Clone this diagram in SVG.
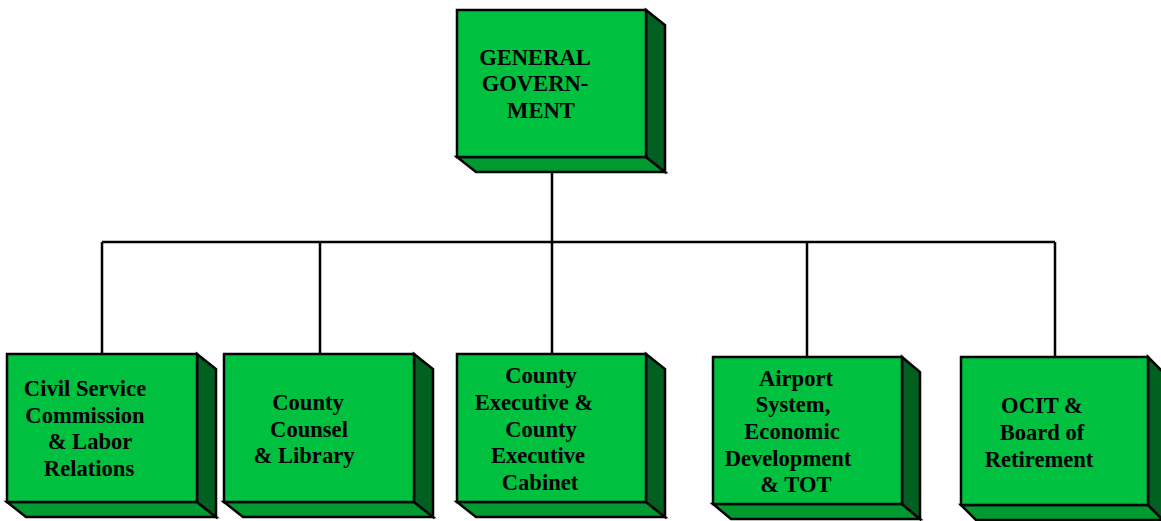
<svg xmlns="http://www.w3.org/2000/svg" width="1161" height="521" viewBox="0 0 1161 521">
<style>
.front{fill:#00C040;stroke:#000;stroke-width:2.5}
.bottom{fill:#009A30;stroke:#000;stroke-width:2.5;stroke-linejoin:miter}
.side{fill:#006020;stroke:#000;stroke-width:2.5;stroke-linejoin:miter}
.t{font-family:"Liberation Serif","Times New Roman",serif;font-weight:bold;font-size:22.6px;fill:#000;text-anchor:middle}
.c{fill:none;stroke:#000;stroke-width:2.5}
</style>
<rect width="1161" height="521" fill="#fff"/>
<g id="connectors">
<path class="c" d="M552,157 V242 M102,242 H1055 M102,242 V354 M320,242 V354 M552,242 V354 M807,242 V357 M1055,242 V357"/>
</g>
<g id="general-government">
<polygon class="bottom" points="457,157 646,157 665,172 476,172"/>
<polygon class="side" points="646,10 665,25 665,172 646,157"/>
<rect class="front" x="457" y="10" width="189" height="147"/>
<text class="t" x="535" y="65">GENERAL</text>
<text class="t" x="535" y="91">GOVERN-</text>
<text class="t" x="541" y="118">MENT</text>
</g>
<g id="civil-service">
<polygon class="bottom" points="7,502 197,502 216,517 26,517"/>
<polygon class="side" points="197,354 216,369 216,517 197,502"/>
<rect class="front" x="7" y="354" width="190" height="148"/>
<text class="t" x="85" y="396">Civil Service</text>
<text class="t" x="85" y="423">Commission</text>
<text class="t" x="90" y="449">&amp; Labor</text>
<text class="t" x="89" y="476">Relations</text>
</g>
<g id="county-counsel">
<polygon class="bottom" points="224,502 414,502 433,517 243,517"/>
<polygon class="side" points="414,354 433,369 433,517 414,502"/>
<rect class="front" x="224" y="354" width="190" height="148"/>
<text class="t" x="308" y="410">County</text>
<text class="t" x="309" y="437">Counsel</text>
<text class="t" x="304" y="463">&amp; Library</text>
</g>
<g id="county-executive">
<polygon class="bottom" points="457,502 646,502 665,517 476,517"/>
<polygon class="side" points="646,354 665,369 665,517 646,502"/>
<rect class="front" x="457" y="354" width="189" height="148"/>
<text class="t" x="541" y="383">County</text>
<text class="t" x="534" y="410">Executive &amp;</text>
<text class="t" x="541" y="437">County</text>
<text class="t" x="538" y="463">Executive</text>
<text class="t" x="540" y="490">Cabinet</text>
</g>
<g id="airport-system">
<polygon class="bottom" points="713,504 902,504 920,519 731,519"/>
<polygon class="side" points="902,357 920,372 920,519 902,504"/>
<rect class="front" x="713" y="357" width="189" height="147"/>
<text class="t" x="796" y="386">Airport</text>
<text class="t" x="793" y="412">System,</text>
<text class="t" x="792" y="439">Economic</text>
<text class="t" x="788" y="466">Development</text>
<text class="t" x="796" y="492">&amp; TOT</text>
</g>
<g id="ocit">
<polygon class="bottom" points="961,505 1148,505 1163,520 976,520"/>
<polygon class="side" points="1148,357 1163,372 1163,520 1148,505"/>
<rect class="front" x="961" y="357" width="187" height="148"/>
<text class="t" x="1042" y="413">OCIT &amp;</text>
<text class="t" x="1042" y="440">Board of</text>
<text class="t" x="1039" y="467">Retirement</text>
</g>
</svg>
